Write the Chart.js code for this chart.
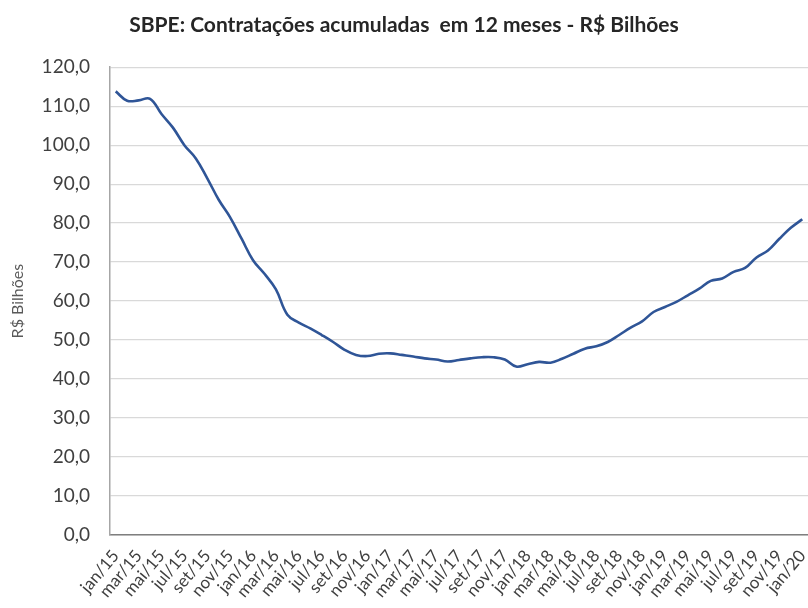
<!DOCTYPE html>
<html>
<head>
<meta charset="utf-8">
<script src="https://cdn.jsdelivr.net/npm/chart.js@4/dist/chart.umd.min.js"></script>
<style>
html,body{margin:0;padding:0;background:#fff;}
#wrap{width:808px;height:608px;}
</style>
</head>
<body>
<div id="wrap"><canvas id="c" width="808" height="608"></canvas></div>
<script>
const months = ["jan","fev","mar","abr","mai","jun","jul","ago","set","out","nov","dez"];
const years = ["15","16","17","18","19","20"];
const categories = [];
for (let y = 0; y < years.length; y++) {
  for (let m = 0; m < 12; m++) {
    if (y === years.length - 1 && m > 0) break;
    categories.push(months[m] + "/" + years[y]);
  }
}
const contratacoes = [
  113.8, 111.4, 111.5, 111.9, 108.0, 104.5, 100.0, 96.6, 91.5, 86.0, 81.5, 76.0,
  70.5, 67.0, 63.0, 56.5, 54.5, 53.0, 51.3, 49.5, 47.5, 46.2, 45.9, 46.5,
  46.6, 46.2, 45.8, 45.3, 45.0, 44.5, 44.9, 45.3, 45.6, 45.6, 45.0, 43.2,
  43.8, 44.4, 44.2, 45.2, 46.5, 47.8, 48.4, 49.5, 51.3, 53.2, 54.8, 57.2,
  58.5, 59.8, 61.5, 63.2, 65.2, 65.8, 67.5, 68.5, 71.2, 73.0, 76.0, 78.8,
  81.0
];
const yTicks = [0, 10, 20, 30, 40, 50, 60, 70, 80, 90, 100, 110, 120];
const titleText = "SBPE: Contratações acumuladas  em 12 meses - R$ Bilhões";
const yTitle = "R$ Bilhões";

const FONT = "Lato, 'Open Sans', sans-serif";
new Chart(document.getElementById("c"), {
  type: "line",
  data: {
    labels: categories,
    datasets: [{
      data: contratacoes,
      borderColor: "#2f5597",
      borderWidth: 2.6,
      pointRadius: 0,
      tension: 0.4,
      fill: false
    }]
  },
  options: {
    responsive: false,
    animation: false,
    layout: { padding: { left: 0, right: 0, top: 0, bottom: 0 } },
    plugins: {
      legend: { display: false },
      tooltip: { enabled: false },
      title: {
        display: true,
        text: titleText,
        color: "#262626",
        font: { family: FONT, size: 21, weight: "bold" },
        padding: { top: 13, bottom: 29 }
      }
    },
    scales: {
      x: {
        offset: true,
        grid: { display: false, drawTicks: false },
        border: { display: true, color: "#7f7f7f", width: 1.5 },
        ticks: {
          autoSkip: false,
          maxRotation: 50,
          minRotation: 50,
          padding: 11,
          color: "#404040",
          font: { family: FONT, size: 17 },
          callback: function (v, i) { return i % 2 === 0 ? categories[i] : ""; }
        },
        afterFit: function (s) { s.height = 73; s.paddingRight = 0; s.paddingLeft = 0; }
      },
      y: {
        min: 0,
        max: 120,
        afterBuildTicks: function (s) { s.ticks = yTicks.map(v => ({ value: v })); },
        grid: { color: "#d9d9d9", lineWidth: 1.3, drawTicks: false },
        border: { display: true, color: "#a6a6a6", width: 1.5 },
        ticks: {
          padding: 20,
          color: "#404040",
          font: { family: FONT, size: 19 },
          callback: function (v) { return v.toFixed(1).replace(".", ","); }
        },
        title: {
          display: true,
          text: yTitle,
          color: "#595959",
          font: { family: FONT, size: 16 },
          padding: { top: 8, bottom: 0 }
        },
        afterFit: function (s) { s.width = 110; }
      }
    }
  }
});
</script>
</body>
</html>
